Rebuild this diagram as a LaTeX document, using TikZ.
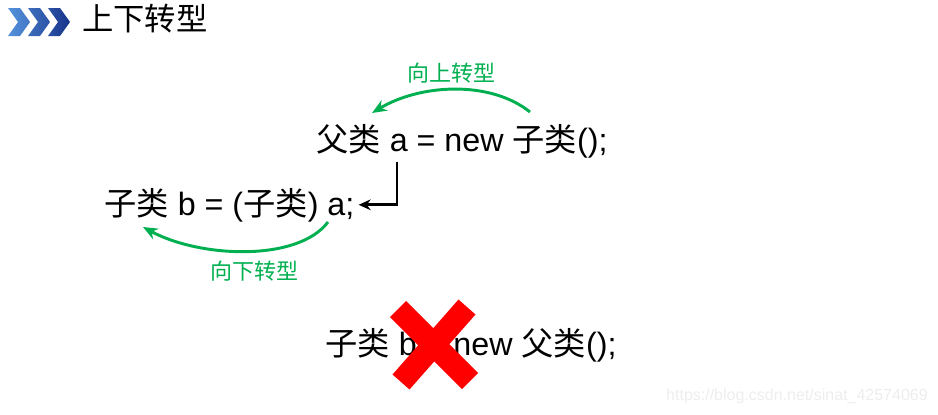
\documentclass[tikz,border=0pt]{standalone}
\usepackage{fontspec}
\setmainfont{Liberation Sans}
\newfontfamily\cjk{Noto Sans CJK SC}
\usetikzlibrary{arrows.meta}
\definecolor{castgreen}{RGB}{0,176,80}
\definecolor{crossred}{RGB}{255,0,0}
\definecolor{chevlight}{RGB}{84,146,220}
\definecolor{chevdark}{RGB}{24,52,138}
\newcommand{\zh}[1]{{\cjk #1}}
\tikzset{
  codeline/.style={anchor=base west,inner sep=0pt,font=\fontsize{24.2}{29}\selectfont},
  castlabel/.style={inner sep=0.75pt,text=castgreen,font=\cjk\fontsize{16.5}{20}\selectfont},
  castarrow/.style={draw=castgreen,line width=2.2pt,-{Stealth[length=11pt,width=9pt]}}
}

\begin{document}
\begin{tikzpicture}[x=0.75pt,y=0.75pt,yscale=-1,xscale=1]
		\useasboundingbox (0,0) rectangle (938,414);
		
		%Shape: Chevrons
		\foreach \i/\cl/\cr in {0/chevlight/chevlight!70!chevdark,1/chevlight!60!chevdark/chevlight!35!chevdark,2/chevlight!30!chevdark/chevdark}
		  \shade [left color=\cl,right color=\cr] (8+20*\i,8) -- (20+20*\i,8) -- (30+20*\i,22) -- (20+20*\i,36) -- (8+20*\i,36) -- (18+20*\i,22) -- cycle ;
		
		% Text Node
		\node (title) [anchor=base west,inner sep=0pt,font=\cjk\fontsize{23.5}{28}\selectfont] at (82,30) {上下转型};
		
		% Text Node
		\node (upcast) [codeline] at (316,151) {\zh{父类} a = new \zh{子类}();};
		% Text Node
		\node (downcast) [codeline] at (104,215) {\zh{子类} b = (\zh{子类}) a;};
		% Text Node
		\node (wrongcast) [codeline] at (325,355) {\zh{子类} b = new \zh{父类}();};
		
		% Text Node
		\node (uplabel) [castlabel] at (451,73) {向上转型};
		% Text Node
		\node (downlabel) [castlabel] at (254,271) {向下转型};
		
		%Straight Lines
		\coordinate (pivot) at (397,162);
		\draw [line width=2pt,-{Stealth[length=9pt,width=8pt]}] (pivot) |- ([xshift=3pt]downcast.east);
		
		%Curve Lines
		\coordinate (upstart) at (530,112);
		\coordinate (upend) at (372,113);
		\draw [castarrow] (upstart) .. controls (490,80) and (420,84) .. (upend);
		\coordinate (downstart) at (328,222);
		\coordinate (downend) at (143,227);
		\draw [castarrow] (downstart) .. controls (298,262) and (200,258) .. (downend);
		
		%Shape: Cross
		\draw [crossred,line width=17pt] (398,309) -- (470,381) (467,307) -- (401,382);
		
		% Text Node
		\node (mark) [anchor=base east,inner sep=0pt,text=gray!14,font=\fontsize{12}{14}\selectfont] at (928,400) {https://blog.csdn.net/sinat\_42574069};
		
\end{tikzpicture}
\end{document}
